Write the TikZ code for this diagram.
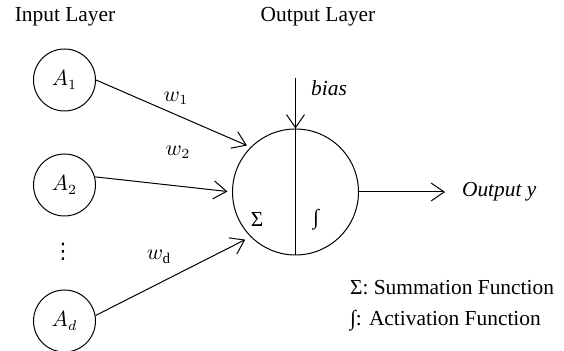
\documentclass[tikz,border=0pt]{standalone}
\usepackage{fontspec}
\setmainfont{Liberation Serif}
\newfontfamily\symfont{DejaVu Sans}
\usetikzlibrary{arrows.meta}

\begin{document}
\begin{tikzpicture}[
	x=0.5pt, y=-0.5pt,
	every node/.style={ font=\fontsize{10.7}{12}\selectfont },
	unit/.style={ circle, draw, line width=0.5pt, inner sep=0pt, minimum size=31pt },
	neuron/.style={ circle, draw, line width=0.5pt, inner sep=0pt, minimum size=63pt },
	wire/.style={ line width=0.5pt, -{Straight Barb[length=6.5pt,width=9pt]} }
]
\useasboundingbox (0,0) rectangle (564,351);

\node at (65,17) (hin) {Input Layer};
\node at (318,17) (hout) {Output Layer};

\node at (64.5,80) (a1) [unit] {$A_1$};
\node at (64.5,185) (a2) [unit] {$A_2$};
\node at (63,252) (dots) {\symfont ⋮};
\node at (64.5,321) (ad) [unit] {$A_d$};

\node at (295.5,192) (n) [neuron] {};
\draw[line width=0.5pt] (n.north) -- (n.south);
\node at (257,220) (sig) {Σ};
\node at (316,220) (act) {∫};

\node at (176,98) (w1) {$w_1$};
\node at (178,152) (w2) {$w_2$};
\node at (159,257) (wd) {$w_\mathrm{d}$};
\draw[wire, shorten >=2pt] (a1.east) -- (n.135);
\draw[wire, shorten >=2.3pt] (a2.15) -- (n.west);
\draw[wire, shorten >=3pt] (ad.10) -- (n.225);

\coordinate (b0) at (295.5,78);
\node at (329,88) (bias) {\textit{bias}};
\draw[wire] (b0) -- (n.north);

\node at (455,192) (outy) [anchor=west] {\textit{Output y}};
\draw[wire, shorten >=5pt] (n.east) -- (outy.west);

\node at (343,288) (l1) [anchor=west] {Σ: Summation Function};
\node at (343,321) (l2) [anchor=west] {∫: Activation Function};

\end{tikzpicture}
\end{document}
